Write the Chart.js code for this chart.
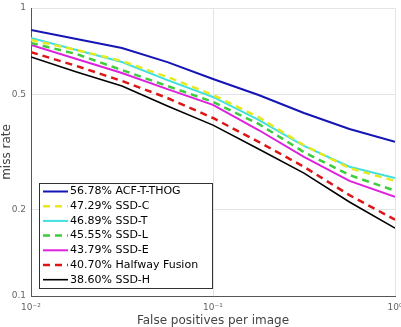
<!DOCTYPE html>
<html>
<head>
<meta charset="utf-8">
<script src="https://cdn.jsdelivr.net/npm/chart.js@4"></script>
<style>
  html, body { margin: 0; padding: 0; background: #fff; }
  canvas { display: block; }
</style>
</head>
<body>
<canvas id="chart" width="401" height="327"></canvas>
<script>
// false positives per image (x positions)
const fppi = [0.01, 0.0178, 0.0316, 0.0562, 0.1, 0.178, 0.316, 0.562, 1];

const acfThog   = [0.839, 0.781, 0.726, 0.649, 0.567, 0.499, 0.432, 0.380, 0.343];
const ssdC      = [0.774, 0.715, 0.655, 0.576, 0.499, 0.418, 0.334, 0.278, 0.251];
const ssdT      = [0.787, 0.715, 0.649, 0.562, 0.491, 0.409, 0.332, 0.281, 0.257];
const ssdL      = [0.756, 0.692, 0.609, 0.536, 0.472, 0.396, 0.316, 0.263, 0.232];
const ssdE      = [0.744, 0.665, 0.595, 0.523, 0.461, 0.377, 0.304, 0.251, 0.221];
const halfway   = [0.703, 0.629, 0.558, 0.487, 0.415, 0.343, 0.281, 0.224, 0.184];
const ssdH      = [0.676, 0.600, 0.536, 0.457, 0.392, 0.324, 0.267, 0.212, 0.172];

const labels = [
  "56.78% ACF-T-THOG", "47.29% SSD-C", "46.89% SSD-T", "45.55% SSD-L",
  "43.79% SSD-E", "40.70% Halfway Fusion", "38.60% SSD-H"
];

const xTicks = [0.01, 0.1, 1];
const xTickText = { 0.01: "10\u207B\u00B2", 0.1: "10\u207B\u00B9", 1: "10\u2070" };
const yTicks = [0.1, 0.2, 0.5, 1];

function pts(arr){
  return arr.map((v, i) => ({ x: fppi[i], y: v }));
}

function ds(label, data, color, dashed, width){
  return {
    label: label,
    data: pts(data),
    borderColor: color,
    borderWidth: width,
    borderDash: dashed ? [7, 5] : [],
    pointRadius: 0,
    tension: 0,
    fill: false
  };
}

// draw order: back to front, legend order kept separately
const sets = [
  ds(labels[0], acfThog, "#1515b5", false, 2),
  ds(labels[1], ssdC, "#e8e820", true, 2.5),
  ds(labels[2], ssdT, "#3fe0e0", false, 2),
  ds(labels[3], ssdL, "#3ccc3c", true, 2.5),
  ds(labels[4], ssdE, "#dd22dd", false, 2),
  ds(labels[5], halfway, "#dd1515", true, 2.5),
  ds(labels[6], ssdH, "#000000", false, 1.6)
];

// legend box inside the plot, MATLAB style
const boxLegend = {
  id: "boxLegend",
  afterDatasetsDraw(chart){
    const c = chart.ctx;
    const a = chart.chartArea;
    const bx = a.left + 8, by = a.top + 175, bw = 173, bh = 105;
    c.save();
    c.fillStyle = "#fff";
    c.fillRect(bx, by, bw, bh);
    c.strokeStyle = "#333";
    c.lineWidth = 1;
    c.strokeRect(bx + 0.5, by + 0.5, bw, bh);
    c.font = "11px 'DejaVu Sans'";
    c.textBaseline = "middle";
    chart.data.datasets.forEach((d, i) => {
      const y = by + 8.5 + i * 14.7;
      c.strokeStyle = d.borderColor;
      c.lineWidth = d.borderWidth;
      c.setLineDash(d.borderDash);
      c.beginPath();
      c.moveTo(bx + 4, y);
      c.lineTo(bx + 29, y);
      c.stroke();
      c.setLineDash([]);
      c.fillStyle = "#000";
      c.fillText(d.label, bx + 31, y);
    });
    c.restore();
  }
};

const ctx = document.getElementById("chart").getContext("2d");

const chart = new Chart(ctx, {
  type: "line",
  data: { datasets: sets },
  plugins: [boxLegend],
  options: {
    responsive: false,
    animation: false,
    devicePixelRatio: 1,
    layout: { padding: { top: 8, right: 6, left: 0, bottom: 0 } },
    plugins: {
      legend: { display: false },
      tooltip: { enabled: false }
    },
    scales: {
      x: {
        type: "logarithmic",
        min: 0.01,
        max: 1,
        afterBuildTicks: s => { s.ticks = xTicks.map(v => ({ value: v })); },
        afterFit: s => { s.height = 31; s.paddingLeft = 0; s.paddingRight = 0; },
        ticks: {
          autoSkip: false,
          maxRotation: 0,
          padding: 6,
          color: "#666",
          font: { family: "DejaVu Sans", size: 9 },
          callback: v => xTickText[v] || ""
        },
        grid: { color: "#e4e4e4", drawTicks: false },
        border: { color: "#555", width: 1 },
        title: {
          display: true,
          text: "False positives per image",
          color: "#444",
          padding: 0,
          font: { family: "DejaVu Sans", size: 12, lineHeight: 1 }
        }
      },
      y: {
        type: "logarithmic",
        min: 0.1,
        max: 1,
        afterBuildTicks: s => { s.ticks = yTicks.map(v => ({ value: v })); },
        afterFit: s => { s.width = 31; s.paddingTop = 0; s.paddingBottom = 0; },
        ticks: {
          autoSkip: false,
          padding: 5,
          color: "#666",
          font: { family: "DejaVu Sans", size: 9 },
          callback: v => String(v)
        },
        grid: { color: "#e4e4e4", drawTicks: false },
        border: { color: "#555", width: 1 },
        title: {
          display: true,
          text: "miss rate",
          color: "#444",
          padding: 0,
          font: { family: "DejaVu Sans", size: 12, lineHeight: 1.1 }
        }
      }
    }
  }
});
</script>
</body>
</html>
